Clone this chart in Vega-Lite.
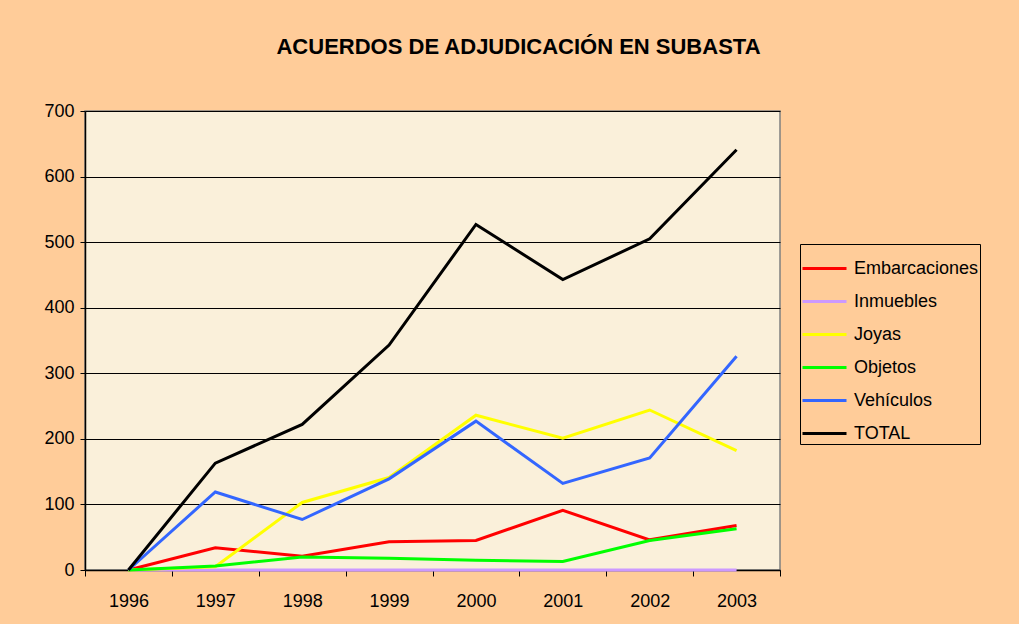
{
  "$schema": "https://vega.github.io/schema/vega-lite/v6.json",
  "autosize": "none",
  "width": 695,
  "height": 459,
  "padding": {"left": 85, "top": 111, "right": 239, "bottom": 54},
  "background": "#FFCC99",
  "title": {
    "text": "ACUERDOS DE ADJUDICACIÓN EN SUBASTA",
    "anchor": "middle",
    "dx": 86,
    "offset": 43,
    "font": "Liberation Sans",
    "fontSize": 22,
    "fontWeight": "bold",
    "color": "#000000"
  },
  "config": {
    "view": {"fill": "#FAF0DA", "stroke": "#808080", "strokeWidth": 1.5},
    "axis": {
      "labelFont": "Liberation Sans",
      "labelFontSize": 18,
      "labelColor": "#000000",
      "domainColor": "#000000",
      "tickColor": "#000000",
      "title": null
    },
    "legend": {
      "labelFont": "Liberation Sans",
      "labelFontSize": 18,
      "labelColor": "#000000"
    }
  },
  "data": {
    "values": [
      {"year": "1996", "serie": "Embarcaciones", "value": 0},
      {"year": "1997", "serie": "Embarcaciones", "value": 34},
      {"year": "1998", "serie": "Embarcaciones", "value": 21},
      {"year": "1999", "serie": "Embarcaciones", "value": 43},
      {"year": "2000", "serie": "Embarcaciones", "value": 45},
      {"year": "2001", "serie": "Embarcaciones", "value": 91},
      {"year": "2002", "serie": "Embarcaciones", "value": 46},
      {"year": "2003", "serie": "Embarcaciones", "value": 68},
      {"year": "1996", "serie": "Inmuebles", "value": 0},
      {"year": "1997", "serie": "Inmuebles", "value": 0},
      {"year": "1998", "serie": "Inmuebles", "value": 0},
      {"year": "1999", "serie": "Inmuebles", "value": 0},
      {"year": "2000", "serie": "Inmuebles", "value": 0},
      {"year": "2001", "serie": "Inmuebles", "value": 0},
      {"year": "2002", "serie": "Inmuebles", "value": 0},
      {"year": "2003", "serie": "Inmuebles", "value": 0},
      {"year": "1996", "serie": "Joyas", "value": 0},
      {"year": "1997", "serie": "Joyas", "value": 5},
      {"year": "1998", "serie": "Joyas", "value": 103},
      {"year": "1999", "serie": "Joyas", "value": 141},
      {"year": "2000", "serie": "Joyas", "value": 236},
      {"year": "2001", "serie": "Joyas", "value": 201},
      {"year": "2002", "serie": "Joyas", "value": 244},
      {"year": "2003", "serie": "Joyas", "value": 182},
      {"year": "1996", "serie": "Objetos", "value": 0},
      {"year": "1997", "serie": "Objetos", "value": 6},
      {"year": "1998", "serie": "Objetos", "value": 20},
      {"year": "1999", "serie": "Objetos", "value": 18},
      {"year": "2000", "serie": "Objetos", "value": 15},
      {"year": "2001", "serie": "Objetos", "value": 13},
      {"year": "2002", "serie": "Objetos", "value": 45},
      {"year": "2003", "serie": "Objetos", "value": 63},
      {"year": "1996", "serie": "Vehículos", "value": 0},
      {"year": "1997", "serie": "Vehículos", "value": 119},
      {"year": "1998", "serie": "Vehículos", "value": 77},
      {"year": "1999", "serie": "Vehículos", "value": 139},
      {"year": "2000", "serie": "Vehículos", "value": 227},
      {"year": "2001", "serie": "Vehículos", "value": 132},
      {"year": "2002", "serie": "Vehículos", "value": 171},
      {"year": "2003", "serie": "Vehículos", "value": 326},
      {"year": "1996", "serie": "TOTAL", "value": 0},
      {"year": "1997", "serie": "TOTAL", "value": 163},
      {"year": "1998", "serie": "TOTAL", "value": 222},
      {"year": "1999", "serie": "TOTAL", "value": 343},
      {"year": "2000", "serie": "TOTAL", "value": 527},
      {"year": "2001", "serie": "TOTAL", "value": 443},
      {"year": "2002", "serie": "TOTAL", "value": 505},
      {"year": "2003", "serie": "TOTAL", "value": 641}
    ]
  },
  "mark": {"type": "line", "strokeCap": "butt", "strokeJoin": "miter"},
  "encoding": {
    "x": {
      "field": "year",
      "type": "ordinal",
      "scale": {"type": "band", "paddingInner": 0, "paddingOuter": 0},
      "axis": {
        "labelAngle": 0,
        "tickBand": "extent",
        "tickSize": 6,
        "labelPadding": 16,
        "domainWidth": 1.5
      }
    },
    "y": {
      "field": "value",
      "type": "quantitative",
      "scale": {"domain": [0, 700], "nice": false},
      "axis": {
        "values": [0, 100, 200, 300, 400, 500, 600, 700],
        "grid": true,
        "gridColor": "#000000",
        "gridOpacity": 1,
        "gridWidth": 1,
        "tickSize": 5,
        "labelPadding": 6,
        "domainWidth": 1.5
      }
    },
    "color": {
      "field": "serie",
      "type": "nominal",
      "scale": {
        "domain": ["Embarcaciones", "Inmuebles", "Joyas", "Objetos", "Vehículos", "TOTAL"],
        "range": ["#FF0000", "#CC99FF", "#FFFF00", "#00FF00", "#3366FF", "#000000"]
      },
      "legend": {
        "title": null,
        "orient": "none",
        "legendX": 715,
        "legendY": 133,
        "symbolType": "stroke",
        "symbolSize": 1936,
        "rowPadding": -19,
        "labelOffset": 6,
        "padding": 1,
        "strokeColor": "#000000",
        "fillColor": "#FFCC99"
      }
    },
    "strokeWidth": {
      "field": "serie",
      "type": "nominal",
      "scale": {
        "domain": ["Embarcaciones", "Inmuebles", "Joyas", "Objetos", "Vehículos", "TOTAL"],
        "range": [3, 3, 3, 3, 3, 4.5]
      },
      "legend": null
    },
    "order": {"field": "year", "type": "ordinal"}
  }
}
